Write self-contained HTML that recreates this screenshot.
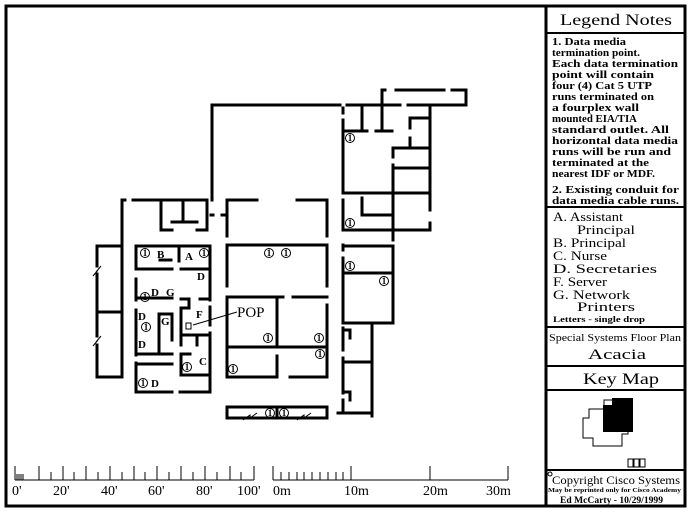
<!DOCTYPE html>
<html><head><style>
html,body{margin:0;padding:0;background:#fff;}
svg{display:block}
text{font-family:"Liberation Serif",serif;fill:#000}
</style></head><body>
<svg width="690" height="514" viewBox="0 0 690 514" xmlns="http://www.w3.org/2000/svg">
<rect x="0" y="0" width="690" height="514" fill="#fff"/>
<rect x="6" y="6" width="679" height="500" fill="none" stroke="#000" stroke-width="3"/>
<line x1="546" y1="6" x2="546" y2="506" stroke="#000" stroke-width="3"/>
<g stroke="#000" stroke-width="2">
<line x1="546" y1="33" x2="685" y2="33"/>
<line x1="546" y1="207" x2="685" y2="207"/>
<line x1="546" y1="327" x2="685" y2="327"/>
<line x1="546" y1="366" x2="685" y2="366"/>
<line x1="546" y1="390" x2="685" y2="390"/>
<line x1="546" y1="470" x2="685" y2="470"/>
</g>
<text x="560" y="25" font-size="16" textLength="112" lengthAdjust="spacingAndGlyphs">Legend Notes</text>
<g font-size="11" font-weight="bold">
<text x="552" y="45" textLength="74" lengthAdjust="spacingAndGlyphs">1. Data media</text>
<text x="552" y="56" textLength="88" lengthAdjust="spacingAndGlyphs">termination point.</text>
<text x="552" y="67" textLength="126" lengthAdjust="spacingAndGlyphs">Each data termination</text>
<text x="552" y="78" textLength="102" lengthAdjust="spacingAndGlyphs">point will contain</text>
<text x="552" y="89" textLength="100" lengthAdjust="spacingAndGlyphs">four (4) Cat 5 UTP</text>
<text x="552" y="100" textLength="102" lengthAdjust="spacingAndGlyphs">runs terminated on</text>
<text x="552" y="111" textLength="87" lengthAdjust="spacingAndGlyphs">a fourplex wall</text>
<text x="552" y="122" textLength="85" lengthAdjust="spacingAndGlyphs">mounted EIA/TIA</text>
<text x="552" y="133" textLength="117" lengthAdjust="spacingAndGlyphs">standard outlet. All</text>
<text x="552" y="144" textLength="126" lengthAdjust="spacingAndGlyphs">horizontal data media</text>
<text x="552" y="155" textLength="119" lengthAdjust="spacingAndGlyphs">runs will be run and</text>
<text x="552" y="166" textLength="97" lengthAdjust="spacingAndGlyphs">terminated at the</text>
<text x="552" y="177" textLength="103" lengthAdjust="spacingAndGlyphs">nearest IDF or MDF.</text>
<text x="552" y="193" textLength="127" lengthAdjust="spacingAndGlyphs">2. Existing conduit for</text>
<text x="552" y="204" textLength="127" lengthAdjust="spacingAndGlyphs">data media cable runs.</text>
</g>
<g font-size="13">
<text x="553" y="221" textLength="70" lengthAdjust="spacingAndGlyphs">A.  Assistant</text>
<text x="577" y="234" textLength="58" lengthAdjust="spacingAndGlyphs">Principal</text>
<text x="553" y="247" textLength="73" lengthAdjust="spacingAndGlyphs">B.  Principal</text>
<text x="553" y="260" textLength="54" lengthAdjust="spacingAndGlyphs">C.  Nurse</text>
<text x="553" y="273" textLength="104" lengthAdjust="spacingAndGlyphs">D.  Secretaries</text>
<text x="553" y="286" textLength="54" lengthAdjust="spacingAndGlyphs">F.  Server</text>
<text x="553" y="299" textLength="77" lengthAdjust="spacingAndGlyphs">G.  Network</text>
<text x="577" y="311" textLength="58" lengthAdjust="spacingAndGlyphs">Printers</text>
</g>
<text x="553" y="322" font-size="8" font-weight="bold" textLength="92" lengthAdjust="spacingAndGlyphs">Letters - single drop</text>
<text x="549" y="341" font-size="10" textLength="132" lengthAdjust="spacingAndGlyphs">Special Systems Floor Plan</text>
<text x="588" y="359" font-size="15" textLength="58" lengthAdjust="spacingAndGlyphs">Acacia</text>
<text x="583" y="384" font-size="16" textLength="76" lengthAdjust="spacingAndGlyphs">Key Map</text>
<polygon points="589,409 604,409 604,400 628,400 628,434 622,434 622,446 593,446 593,438 583,438 583,418 589,418" fill="#fff" stroke="#000" stroke-width="1"/>
<polygon points="603,405 612,405 612,398 633,398 633,432 603,432" fill="#000"/>
<rect x="628" y="459" width="5" height="8" fill="none" stroke="#000"/>
<rect x="634" y="459" width="5" height="8" fill="none" stroke="#000"/>
<rect x="640" y="459" width="5" height="8" fill="none" stroke="#000"/>
<circle cx="550" cy="474" r="2" fill="none" stroke="#000"/>
<text x="552" y="484" font-size="12" textLength="128" lengthAdjust="spacingAndGlyphs">Copyright Cisco Systems</text>
<text x="548" y="492" font-size="6" font-weight="bold" textLength="133" lengthAdjust="spacingAndGlyphs">May be reprinted only for Cisco Academy</text>
<text x="560" y="503" font-size="9" font-weight="bold" textLength="103" lengthAdjust="spacingAndGlyphs">Ed McCarty - 10/29/1999</text>

<g stroke="#000" stroke-width="1">
<line x1="15" y1="480" x2="254" y2="480"/>
<line x1="15" y1="466" x2="15" y2="480"/>
<line x1="17" y1="474" x2="17" y2="480"/><line x1="19" y1="474" x2="19" y2="480"/><line x1="21" y1="474" x2="21" y2="480"/><line x1="23" y1="474" x2="23" y2="480"/>
<line x1="39" y1="466" x2="39" y2="480"/><line x1="51" y1="472" x2="51" y2="480"/><line x1="63" y1="466" x2="63" y2="480"/><line x1="74" y1="472" x2="74" y2="480"/>
<line x1="86" y1="466" x2="86" y2="480"/><line x1="98" y1="472" x2="98" y2="480"/><line x1="110" y1="466" x2="110" y2="480"/><line x1="122" y1="472" x2="122" y2="480"/>
<line x1="134" y1="466" x2="134" y2="480"/><line x1="145" y1="472" x2="145" y2="480"/><line x1="157" y1="466" x2="157" y2="480"/><line x1="169" y1="472" x2="169" y2="480"/>
<line x1="181" y1="466" x2="181" y2="480"/><line x1="193" y1="472" x2="193" y2="480"/><line x1="205" y1="466" x2="205" y2="480"/><line x1="217" y1="472" x2="217" y2="480"/>
<line x1="230" y1="466" x2="230" y2="480"/><line x1="241" y1="472" x2="241" y2="480"/><line x1="254" y1="466" x2="254" y2="480"/>
<line x1="273" y1="480" x2="508" y2="480"/>
<line x1="273" y1="466" x2="273" y2="480"/>
<line x1="281" y1="472" x2="281" y2="480"/><line x1="289" y1="472" x2="289" y2="480"/><line x1="297" y1="472" x2="297" y2="480"/><line x1="304" y1="472" x2="304" y2="480"/><line x1="312" y1="472" x2="312" y2="480"/><line x1="320" y1="472" x2="320" y2="480"/><line x1="328" y1="472" x2="328" y2="480"/><line x1="336" y1="472" x2="336" y2="480"/><line x1="343" y1="472" x2="343" y2="480"/>
<line x1="351" y1="466" x2="351" y2="480"/><line x1="430" y1="466" x2="430" y2="480"/><line x1="508" y1="466" x2="508" y2="480"/>
</g>
<g font-size="14">
<text x="12" y="495">0'</text><text x="53" y="495">20'</text><text x="101" y="495">40'</text><text x="148" y="495">60'</text><text x="196" y="495">80'</text><text x="237" y="495">100'</text>
<text x="273" y="495">0m</text><text x="344" y="495">10m</text><text x="423" y="495">20m</text><text x="486" y="495">30m</text>
</g>

<g stroke="#000" stroke-width="3" fill="none" stroke-linecap="square">
<line x1="212" y1="105" x2="340" y2="105"/><line x1="347" y1="105" x2="400" y2="105"/><line x1="408" y1="105" x2="466" y2="105"/>
<line x1="382" y1="90" x2="385" y2="90"/><line x1="396" y1="90" x2="444" y2="90"/><line x1="452" y1="90" x2="466" y2="90"/>
<line x1="466" y1="90" x2="466" y2="104"/>
<line x1="382" y1="90" x2="382" y2="130"/>
<line x1="212" y1="105" x2="212" y2="200"/>
<line x1="343" y1="108" x2="343" y2="113"/><line x1="343" y1="120" x2="343" y2="193"/><line x1="343" y1="200" x2="343" y2="230"/>
<line x1="362" y1="105" x2="362" y2="130"/>
<line x1="345" y1="131" x2="367" y2="131"/><line x1="376" y1="131" x2="392" y2="131"/>
<line x1="430" y1="105" x2="430" y2="210"/><line x1="430" y1="223" x2="430" y2="228"/>
<line x1="410" y1="118" x2="430" y2="118"/><line x1="410" y1="118" x2="410" y2="128"/><line x1="410" y1="138" x2="410" y2="147"/>
<line x1="393" y1="148" x2="430" y2="148"/><line x1="393" y1="168" x2="430" y2="168"/>
<line x1="393" y1="150" x2="393" y2="157"/><line x1="393" y1="165" x2="393" y2="240"/>
<line x1="343" y1="193" x2="430" y2="193"/>
<line x1="362" y1="198" x2="362" y2="215"/><line x1="362" y1="215" x2="393" y2="215"/>
<line x1="343" y1="230" x2="430" y2="230"/>
<line x1="343" y1="245" x2="343" y2="250"/><line x1="343" y1="258" x2="343" y2="320"/><line x1="343" y1="328" x2="343" y2="350"/><line x1="343" y1="358" x2="343" y2="393"/><line x1="343" y1="400" x2="343" y2="413"/>
<line x1="345" y1="246" x2="393" y2="246"/><line x1="393" y1="246" x2="393" y2="323"/>
<line x1="343" y1="273" x2="393" y2="273"/><line x1="343" y1="323" x2="393" y2="323"/>
<line x1="372" y1="323" x2="372" y2="416"/>
<line x1="343" y1="362" x2="372" y2="362"/><line x1="338" y1="413" x2="372" y2="413"/>
<line x1="345" y1="330" x2="350" y2="330"/><line x1="350" y1="330" x2="350" y2="338"/>
<line x1="345" y1="392" x2="350" y2="392"/><line x1="350" y1="392" x2="350" y2="400"/>
<line x1="227" y1="200" x2="257" y2="200"/><line x1="297" y1="200" x2="327" y2="200"/>
<line x1="227" y1="200" x2="227" y2="236"/><line x1="227" y1="246" x2="227" y2="286"/><line x1="227" y1="297" x2="227" y2="377"/>
<line x1="327" y1="200" x2="327" y2="236"/><line x1="327" y1="246" x2="327" y2="286"/><line x1="327" y1="305" x2="327" y2="377"/>
<line x1="227" y1="245" x2="327" y2="245"/>
<line x1="227" y1="297" x2="283" y2="297"/><line x1="293" y1="297" x2="327" y2="297"/>
<line x1="277" y1="297" x2="277" y2="347"/><line x1="277" y1="356" x2="277" y2="377"/>
<line x1="227" y1="347" x2="327" y2="347"/>
<line x1="227" y1="377" x2="277" y2="377"/><line x1="290" y1="377" x2="327" y2="377"/>
<line x1="211" y1="215" x2="213" y2="215"/><line x1="222" y1="215" x2="227" y2="215"/>
<rect x="227" y="407" width="100" height="11"/>
<line x1="277" y1="407" x2="277" y2="418"/>
<line x1="133" y1="200" x2="205" y2="200"/>
<line x1="161" y1="200" x2="161" y2="230"/><line x1="161" y1="230" x2="172" y2="230"/>
<line x1="172" y1="222" x2="197" y2="222"/><line x1="183" y1="200" x2="183" y2="222"/>
<line x1="207" y1="200" x2="207" y2="230"/><line x1="197" y1="230" x2="207" y2="230"/>
<line x1="122" y1="200" x2="122" y2="377"/><line x1="122" y1="200" x2="125" y2="200"/>
<line x1="97" y1="246" x2="122" y2="246"/><line x1="97" y1="312" x2="122" y2="312"/><line x1="97" y1="377" x2="122" y2="377"/>
<line x1="97" y1="246" x2="97" y2="266"/><line x1="97" y1="274" x2="97" y2="336"/><line x1="97" y1="345" x2="97" y2="377"/>
<line x1="136" y1="246" x2="210" y2="246"/>
<line x1="136" y1="246" x2="136" y2="266"/><line x1="136" y1="279" x2="136" y2="300"/><line x1="136" y1="310" x2="136" y2="355"/><line x1="136" y1="363" x2="136" y2="392"/>
<line x1="210" y1="246" x2="210" y2="300"/><line x1="210" y1="307" x2="210" y2="325"/><line x1="210" y1="333" x2="210" y2="392"/>
<line x1="179" y1="246" x2="179" y2="261"/>
<line x1="136" y1="269" x2="172" y2="269"/><line x1="181" y1="269" x2="210" y2="269"/>
<line x1="136" y1="298" x2="172" y2="298"/>
<line x1="160" y1="260" x2="171" y2="260"/>
<line x1="159" y1="314" x2="172" y2="314"/><line x1="159" y1="314" x2="159" y2="353"/><line x1="172" y1="314" x2="172" y2="340"/>
<line x1="136" y1="354" x2="172" y2="354"/>
<line x1="181" y1="308" x2="181" y2="345"/><line x1="181" y1="299" x2="189" y2="299"/><line x1="189" y1="299" x2="189" y2="308"/><line x1="181" y1="308" x2="189" y2="308"/>
<line x1="200" y1="299" x2="210" y2="299"/>
<line x1="181" y1="335" x2="210" y2="335"/><line x1="197" y1="335" x2="197" y2="345"/>
<line x1="181" y1="354" x2="181" y2="375"/><line x1="181" y1="354" x2="190" y2="354"/><line x1="181" y1="375" x2="210" y2="375"/>
<line x1="136" y1="364" x2="172" y2="364"/>
<line x1="136" y1="392" x2="172" y2="392"/><line x1="180" y1="392" x2="210" y2="392"/>
</g>
<g stroke="#000" stroke-width="1" fill="none">
<polyline points="93,276 98,270 96,272 101,266"/>
<polyline points="93,346 98,340 96,342 101,336"/>
<polyline points="243,420 250,415 250,418 257,413"/>
<polyline points="297,420 304,415 304,418 311,413"/>
<line x1="237" y1="312" x2="193" y2="325"/>
<rect x="186" y="323" width="5" height="6"/>
</g>
<text x="237" y="317" font-size="15">POP</text>
<g font-size="9" font-weight="bold" text-anchor="middle">
<g stroke="#000" stroke-width="1" fill="none">
<circle cx="145" cy="253" r="4.5"/><circle cx="204" cy="253" r="4.5"/><circle cx="145" cy="297" r="4.5"/><circle cx="146" cy="327" r="4.5"/>
<circle cx="143" cy="383" r="4.5"/><circle cx="187" cy="367" r="4.5"/><circle cx="269" cy="253" r="4.5"/><circle cx="286" cy="253" r="4.5"/>
<circle cx="268" cy="338" r="4.5"/><circle cx="319" cy="338" r="4.5"/><circle cx="320" cy="354" r="4.5"/><circle cx="233" cy="369" r="4.5"/>
<circle cx="350" cy="138" r="4.5"/><circle cx="350" cy="223" r="4.5"/><circle cx="350" cy="266" r="4.5"/><circle cx="384" cy="281" r="4.5"/>
<circle cx="270" cy="413" r="4.5"/><circle cx="284" cy="413" r="4.5"/>
</g>
<text x="145" y="256">1</text><text x="204" y="256">1</text><text x="145" y="300">1</text><text x="146" y="330">1</text>
<text x="143" y="386">1</text><text x="187" y="370">1</text><text x="269" y="256">1</text><text x="286" y="256">1</text>
<text x="268" y="341">1</text><text x="319" y="341">1</text><text x="320" y="357">1</text><text x="233" y="372">1</text>
<text x="350" y="141">1</text><text x="350" y="226">1</text><text x="350" y="269">1</text><text x="384" y="284">1</text>
<text x="270" y="416">1</text><text x="284" y="416">1</text>
</g>
<g font-size="11" font-weight="bold">
<text x="157" y="258">B</text><text x="185" y="260">A</text><text x="197" y="280">D</text>
<text x="151" y="296">D</text><text x="166" y="296">G</text>
<text x="138" y="320">D</text><text x="138" y="348">D</text><text x="161" y="325">G</text>
<text x="196" y="318">F</text><text x="199" y="365">C</text><text x="151" y="387">D</text>
</g>
</svg>
</body></html>
